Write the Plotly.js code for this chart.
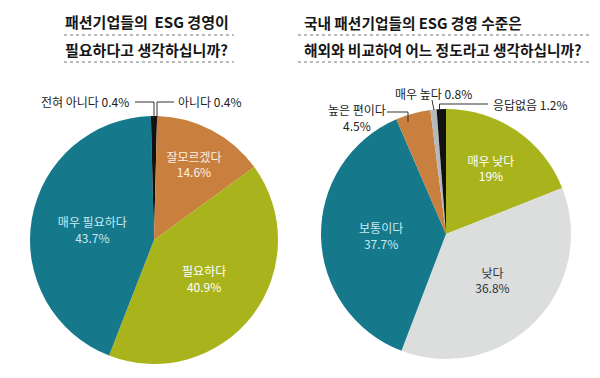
<!DOCTYPE html>
<html>
<head>
<meta charset="utf-8">
<script src="https://cdn.plot.ly/plotly-3.0.1.min.js"></script>
<style>
html,body{margin:0;padding:0;background:#fff;}
#chart{width:600px;height:378px;}
</style>
</head>
<body>
<div id="chart"></div>
<script>
// ---- Data ----
const leftTitle = ["패션기업들의  ESG 경영이", "필요하다고 생각하십니까?"];
const leftLabels = ["아니다", "잘모르겠다", "필요하다", "매우 필요하다", "전혀 아니다"];
const leftValues = [0.4, 14.6, 40.9, 43.7, 0.4];

const rightTitle = ["국내 패션기업들의 ESG 경영 수준은", "해외와 비교하여 어느 정도라고 생각하십니까?"];
const rightLabels = ["매우 낮다", "낮다", "보통이다", "높은 편이다", "매우 높다", "응답없음"];
const rightValues = [19, 36.8, 37.7, 4.5, 0.8, 1.2];

// ---- Styles ----
const TEAL = "#15798b", OLIVE = "#a9b41d", ORANGE = "#c9803f", GRAY = "#dcdddd", SILVER = "#b5b9bc", BLACK = "#111111";
const leftColors = [BLACK, ORANGE, OLIVE, TEAL, BLACK];
const leftTextColors = ["#fff", "#fbeee2", "#ffffff", "#c8e9f0", "#fff"];
const leftPos = ["none", "inside", "inside", "inside", "none"];
const rightColors = [OLIVE, GRAY, TEAL, ORANGE, SILVER, BLACK];
const rightTextColors = ["#ffffff", "#333333", "#c8e9f0", "#fff", "#fff", "#fff"];
const rightPos = ["inside", "inside", "inside", "none", "none", "none"];

const W = 600, H = 378;
const px = x => x / W;
const py = y => 1 - y / H;
const FONT = "Noto Sans CJK KR, Noto Sans, sans-serif";

const traces = [
  {
    type: "pie", values: leftValues, labels: leftLabels, sort: false,
    direction: "clockwise", rotation: 0,
    domain: {x: [px(30), px(278)], y: [py(364), py(116)]},
    marker: {colors: leftColors, line: {width: 0}},
    textposition: leftPos, insidetextorientation: "horizontal",
    texttemplate: "%{label}<br>%{value}%",
    insidetextfont: {family: FONT, size: 12, color: leftTextColors},
    hoverinfo: "none", showlegend: false
  },
  {
    type: "pie", values: rightValues, labels: rightLabels, sort: false,
    direction: "clockwise", rotation: 0,
    domain: {x: [px(321), px(571)], y: [py(359), py(109)]},
    marker: {colors: rightColors, line: {width: 0}},
    textposition: rightPos, insidetextorientation: "horizontal",
    texttemplate: "%{label}<br>%{value}%",
    insidetextfont: {family: FONT, size: 12, color: rightTextColors},
    hoverinfo: "none", showlegend: false
  }
];

function ann(text, x, y, xanchor, align) {
  return {text: text, x: px(x), y: py(y), xref: "paper", yref: "paper",
    xanchor: xanchor, yanchor: "middle", align: align || "left", showarrow: false,
    font: {family: FONT, size: 12, color: "#222"}};
}
function titleAnn(text, x, y, size) {
  return {text: "<b>" + text + "</b>", x: px(x), y: py(y), xref: "paper", yref: "paper",
    xanchor: "left", yanchor: "middle", showarrow: false,
    font: {family: FONT, size: size, color: "#161616"}};
}
function path(d) {
  return {type: "path", path: d, xref: "paper", yref: "paper", line: {color: "#333", width: 1}};
}
function P(pts) {
  return pts.map((p, i) => (i ? "L" : "M") + px(p[0]) + "," + py(p[1])).join(" ");
}
function dotted(x0, x1, y) {
  return {type: "line", xref: "paper", yref: "paper", x0: px(x0), x1: px(x1), y0: py(y), y1: py(y),
    line: {color: "#777", width: 1, dash: "dot"}};
}

const annotations = [
  titleAnn(leftTitle[0], 63, 22, 15),
  titleAnn(leftTitle[1], 63, 49, 15),
  titleAnn(rightTitle[0], 302, 23, 14.7),
  titleAnn(rightTitle[1], 302, 49, 14.7),
  ann(leftLabels[4] + " " + leftValues[4] + "%", 131, 102, "right"),
  ann(leftLabels[0] + " " + leftValues[0] + "%", 176, 102, "left"),
  ann(rightLabels[4] + " " + rightValues[4] + "%", 433, 93, "center"),
  ann(rightLabels[5] + " " + rightValues[5] + "%", 491, 104, "left"),
  ann(rightLabels[3] + "<br>" + rightValues[3] + "%", 357, 118, "center", "center")
];

const shapes = [
  dotted(64, 234, 35), dotted(64, 234, 62),
  dotted(298, 592, 35), dotted(298, 592, 62),
  path(P([[135, 102], [154, 102], [154, 118]])),
  path(P([[174, 102], [157, 102], [157, 118]])),
  path(P([[432, 100], [434, 110]])),
  path(P([[488, 104], [439.5, 104], [439.5, 110]])),
  path(P([[387, 112], [408, 112], [408, 122]]))
];

const layout = {
  width: W, height: H, margin: {l: 0, r: 0, t: 0, b: 0},
  paper_bgcolor: "#ffffff", plot_bgcolor: "#ffffff",
  font: {family: FONT},
  annotations: annotations, shapes: shapes
};

Plotly.newPlot("chart", traces, layout, {staticPlot: true, displayModeBar: false});
</script>
</body>
</html>
